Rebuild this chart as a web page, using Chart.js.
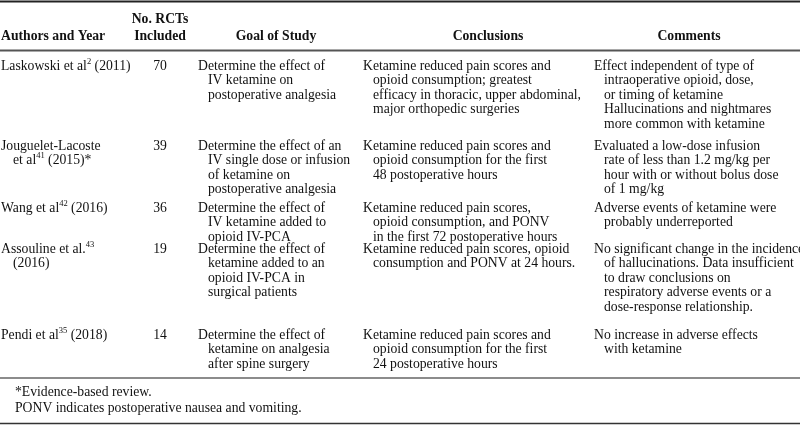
<!DOCTYPE html>
<html>
<head>
<meta charset="utf-8">
<script src="https://cdn.jsdelivr.net/npm/chart.js@4.4.1/dist/chart.umd.min.js"></script>
<style>
  html, body { margin: 0; padding: 0; background: #fff; }
  #table { display: block; }
</style>
</head>
<body>
<canvas id="table" width="800" height="425"></canvas>
<script>
// table content (^x^ marks a superscript)
var headers = [['Authors and Year'], ['No. RCTs', 'Included'], ['Goal of Study'], ['Conclusions'], ['Comments']];
var authors = [
    ['Laskowski et al^2^ (2011)'],
    ['Jouguelet-Lacoste', 'et al^41^ (2015)*'],
    ['Wang et al^42^ (2016)'],
    ['Assouline et al.^43^', '(2016)'],
    ['Pendi et al^35^ (2018)']
];
var rctCounts = [70, 39, 36, 19, 14];
var goals = [
    ['Determine the effect of', 'IV ketamine on', 'postoperative analgesia'],
    ['Determine the effect of an', 'IV single dose or infusion', 'of ketamine on', 'postoperative analgesia'],
    ['Determine the effect of', 'IV ketamine added to', 'opioid IV-PCA'],
    ['Determine the effect of', 'ketamine added to an', 'opioid IV-PCA in', 'surgical patients'],
    ['Determine the effect of', 'ketamine on analgesia', 'after spine surgery']
];
var conclusions = [
    ['Ketamine reduced pain scores and', 'opioid consumption; greatest', 'efficacy in thoracic, upper abdominal,', 'major orthopedic surgeries'],
    ['Ketamine reduced pain scores and', 'opioid consumption for the first', '48 postoperative hours'],
    ['Ketamine reduced pain scores,', 'opioid consumption, and PONV', 'in the first 72 postoperative hours'],
    ['Ketamine reduced pain scores, opioid', 'consumption and PONV at 24 hours.'],
    ['Ketamine reduced pain scores and', 'opioid consumption for the first', '24 postoperative hours']
];
var comments = [
    ['Effect independent of type of', 'intraoperative opioid, dose,', 'or timing of ketamine', 'Hallucinations and nightmares', 'more common with ketamine'],
    ['Evaluated a low-dose infusion', 'rate of less than 1.2 mg/kg per', 'hour with or without bolus dose', 'of 1 mg/kg'],
    ['Adverse events of ketamine were', 'probably underreported'],
    ['No significant change in the incidence', 'of hallucinations. Data insufficient', 'to draw conclusions on', 'respiratory adverse events or a', 'dose-response relationship.'],
    ['No increase in adverse effects', 'with ketamine']
];
var footnotes = ['*Evidence-based review.', 'PONV indicates postoperative nausea and vomiting.'];

// layout (in scale units = px of the 800x425 sheet)
var rowTops = [66, 146, 208, 249, 335];
var lineH = 14.6;
var cols = [
    { x: 1, indent: 12, align: 'left' },
    { x: 160, indent: 0, align: 'center' },
    { x: 198, indent: 10, align: 'left' },
    { x: 363, indent: 10, align: 'left' },
    { x: 594, indent: 10, align: 'left' }
];
var headerX = [1, 160, 276, 488, 689];
var headerY = [19, 36];
var serif = '"Liberation Serif", "Times New Roman", serif';
var fontSize = 13.7;

function drawRich(ctx, text, x, y, align, bold) {
    var parts = text.split('^');
    var main = (bold ? 'bold ' : '') + fontSize + 'px ' + serif;
    var sup = (bold ? 'bold ' : '') + (fontSize * 0.62).toFixed(1) + 'px ' + serif;
    var total = 0;
    parts.forEach(function(p, i) {
        ctx.font = i % 2 ? sup : main;
        total += ctx.measureText(p).width;
    });
    var cx = align === 'center' ? x - total / 2 : x;
    ctx.textAlign = 'left';
    parts.forEach(function(p, i) {
        ctx.font = i % 2 ? sup : main;
        ctx.fillText(p, cx, i % 2 ? y - 4.5 : y);
        cx += ctx.measureText(p).width;
    });
}

var tablePlugin = {
    id: 'tableDraw',
    afterDraw: function(chart) {
        var ctx = chart.ctx;
        var sx = chart.scales.x, sy = chart.scales.y;
        var X = function(v) { return sx.getPixelForValue(v); };
        var Y = function(v) { return sy.getPixelForValue(v); };
        ctx.save();
        ctx.fillStyle = '#fff';
        ctx.fillRect(0, 0, chart.width, chart.height);

        function rule(yv, w, color) {
            ctx.beginPath();
            ctx.strokeStyle = color;
            ctx.lineWidth = w;
            ctx.moveTo(X(0), Y(yv));
            ctx.lineTo(X(800), Y(yv));
            ctx.stroke();
        }
        rule(1.5, 2, '#222');
        rule(50.5, 2, '#555');
        rule(378, 1.5, '#666');
        rule(423.5, 1.5, '#333');

        ctx.fillStyle = '#111';
        ctx.textBaseline = 'middle';

        // header
        headers.forEach(function(h, c) {
            var align = c === 0 ? 'left' : 'center';
            var start = headerY.length - h.length;
            h.forEach(function(t, k) {
                drawRich(ctx, t, X(headerX[c]), Y(headerY[start + k]), align, true);
            });
        });

        // body
        var columns = [authors, rctCounts, goals, conclusions, comments];
        columns.forEach(function(colData, c) {
            var col = cols[c];
            colData.forEach(function(cell, r) {
                var lines = Array.isArray(cell) ? cell : [String(cell)];
                lines.forEach(function(t, k) {
                    var xv = col.x + (k > 0 ? col.indent : 0);
                    drawRich(ctx, t, X(xv), Y(rowTops[r] + k * lineH), col.align, false);
                });
            });
        });

        // footnotes
        footnotes.forEach(function(t, k) {
            drawRich(ctx, t, X(15), Y(392 + k * 16), 'left', false);
        });
        ctx.restore();
    }
};

var chart = new Chart(document.getElementById('table'), {
    type: 'scatter',
    data: { datasets: [{ data: [], pointRadius: 0 }] },
    options: {
        responsive: false,
        animation: false,
        events: [],
        layout: { padding: 0 },
        plugins: { legend: { display: false }, tooltip: { enabled: false } },
        scales: {
            x: { type: 'linear', min: 0, max: 800, display: false },
            y: { type: 'linear', min: 0, max: 425, reverse: true, display: false }
        }
    },
    plugins: [tablePlugin]
});
</script>
</body>
</html>
